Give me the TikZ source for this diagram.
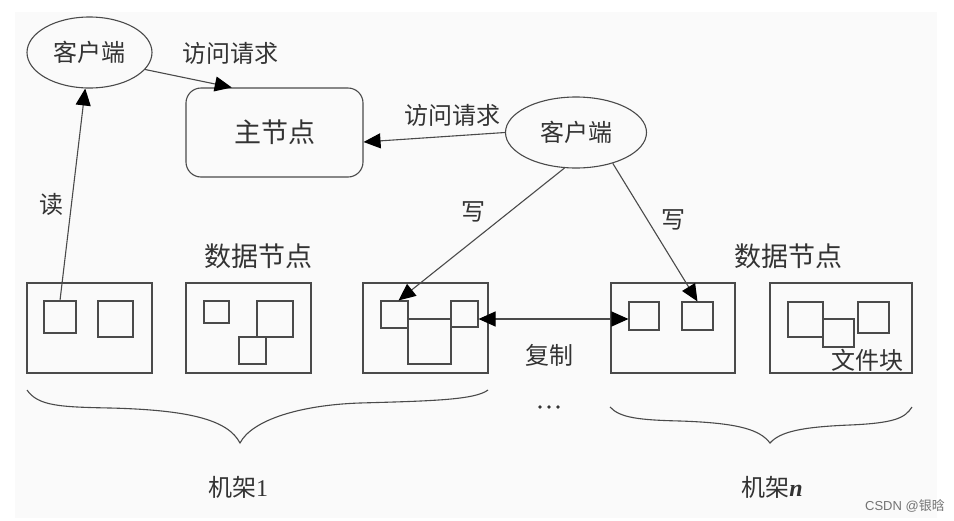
\documentclass[tikz,border=0pt]{standalone}
\usepackage{fontspec}
\setmainfont{Liberation Serif}
\newfontfamily\cjk{Noto Sans CJK SC}
\newfontfamily\wmfont{Liberation Sans}
\usetikzlibrary{arrows.meta,shapes.geometric,calc}
\definecolor{ln}{HTML}{4A4A4A}
\definecolor{txt}{HTML}{333333}
\tikzset{
  lbl/.style={font=\cjk\fontsize{24}{28}\selectfont, text=txt, inner sep=0pt},
  bigl/.style={font=\cjk\fontsize{27}{30}\selectfont, text=txt, inner sep=0pt},
  client/.style={draw=ln, line width=1.1pt, ellipse, inner sep=0pt, font=\cjk\fontsize{24}{28}\selectfont, text=txt},
  master/.style={draw=ln, line width=1.1pt, rectangle, rounded corners=15pt, inner sep=0pt, font=\cjk\fontsize{27}{30}\selectfont, text=txt},
  rackbox/.style={draw=ln, line width=1.1pt, rectangle, inner sep=0pt, minimum height=90pt},
  blk/.style={draw=ln, line width=1.1pt, rectangle, inner sep=0pt},
  tipx/.tip={Triangle[length=17pt,width=15pt,color=black]},
  arr/.style={draw=ln, line width=1.1pt, -tipx},
  arrb/.style={draw=ln, line width=1.1pt, tipx-tipx},
  bracel/.style={draw=ln, line width=1.1pt}
}
\begin{document}
\begin{tikzpicture}[x=1pt,y=-1pt]
\useasboundingbox (0,0) rectangle (954,520);
\fill[white] (0,0) rectangle (954,520);
\fill[black!2] (15,12) rectangle (937,518);

% clients and master
\node[client, minimum width=125pt, minimum height=71pt] (c1) at (89.5,52.5) {客户端};
\node[client, minimum width=141pt, minimum height=71pt] (c2) at (576,132.5) {客户端};
\node[master, minimum width=177pt, minimum height=89pt] (m) at (274.5,132.5) {主节点};

% racks
\node[rackbox, minimum width=125pt] (r1a) at (89.5,328) {};
\node[rackbox, minimum width=125pt] (r1b) at (248.5,328) {};
\node[rackbox, minimum width=125pt] (r1c) at (425.5,328) {};
\node[rackbox, minimum width=124pt] (rna) at (673,328) {};
\node[rackbox, minimum width=142pt] (rnb) at (841,328) {};

% blocks
\node[blk, minimum width=32pt, minimum height=32pt] (b11) at (60,317) {};
\node[blk, minimum width=35pt, minimum height=36pt] (b12) at (115.5,319) {};
\node[blk, minimum width=25pt, minimum height=22pt] (b21) at (216.5,312) {};
\node[blk, minimum width=36pt, minimum height=36pt] (b22) at (275,319) {};
\node[blk, minimum width=27pt, minimum height=27pt] (b23) at (252.5,350.5) {};
\node[blk, minimum width=27pt, minimum height=27pt] (b31) at (394.5,314.5) {};
\node[blk, minimum width=43pt, minimum height=45pt] (b32) at (429.5,341.5) {};
\node[blk, minimum width=27pt, minimum height=26pt] (b33) at (464.5,314) {};
\node[blk, minimum width=30pt, minimum height=28pt] (bn1) at (644,316) {};
\node[blk, minimum width=31pt, minimum height=28pt] (bn2) at (697.5,316) {};
\node[blk, minimum width=35pt, minimum height=35pt] (bm1) at (805.5,319.5) {};
\node[blk, minimum width=31pt, minimum height=28pt] (bm2) at (838.5,333) {};
\node[blk, minimum width=31pt, minimum height=31pt] (bm3) at (873.5,317.5) {};

% labels
\node[lbl] (q1) at (230,53) {访问请求};
\node[lbl] (q2) at (452,115) {访问请求};
\node[lbl] (rd) at (51,204) {读};
\node[lbl] (w1) at (473,212) {写};
\node[lbl] (w2) at (673,220) {写};
\node[bigl] (d1) at (258,256) {数据节点};
\node[bigl] (d2) at (788,256) {数据节点};
\node[lbl] (cp) at (549,355) {复制};
\node[lbl] (fb) at (867,360) {文件块};
\node[lbl] (k1) at (238,487) {机架{\rmfamily 1}};
\node[lbl] (kn) at (772,487) {机架{\rmfamily\itshape\bfseries n}};
\node[font=\wmfont\fontsize{13}{15}\selectfont, text=black!55, inner sep=0pt] (wm) at (905,506) {CSDN @{\cjk 银晗}};

% dots
\fill[txt] (540,407) circle (1.8);
\fill[txt] (549,407) circle (1.8);
\fill[txt] (558,407) circle (1.8);

% connectors
\draw[arr] (c1.-17) -- ($(m.north west)!0.26!(m.north east)$);
\draw[arr] (c2.west) -- ($(m.east)+(0,9.5)$);
\draw[arr] (b11.north) -- (c1);
\draw[arr] (c2.-108) -- ($(b31.north)+(4,0)$);
\draw[arr] (c2.-40) -- (bn2.north);
\draw[arrb] ($(b33.east)+(0,5)$) -- ($(bn1.west)+(0,3)$);

% braces
\draw[bracel] (27,390) .. controls (38,406) and (60,407) .. (110,408)
  .. controls (190,410) and (228,420) .. (240,443)
  .. controls (252,420) and (300,405) .. (360,403)
  .. controls (430,401) and (475,400) .. (488,390);
\draw[bracel] (610,407) .. controls (620,418) and (640,420) .. (680,421)
  .. controls (740,423) and (760,430) .. (770,443)
  .. controls (780,432) and (800,427) .. (850,425)
  .. controls (895,423) and (905,418) .. (912,407);
\end{tikzpicture}
\end{document}
